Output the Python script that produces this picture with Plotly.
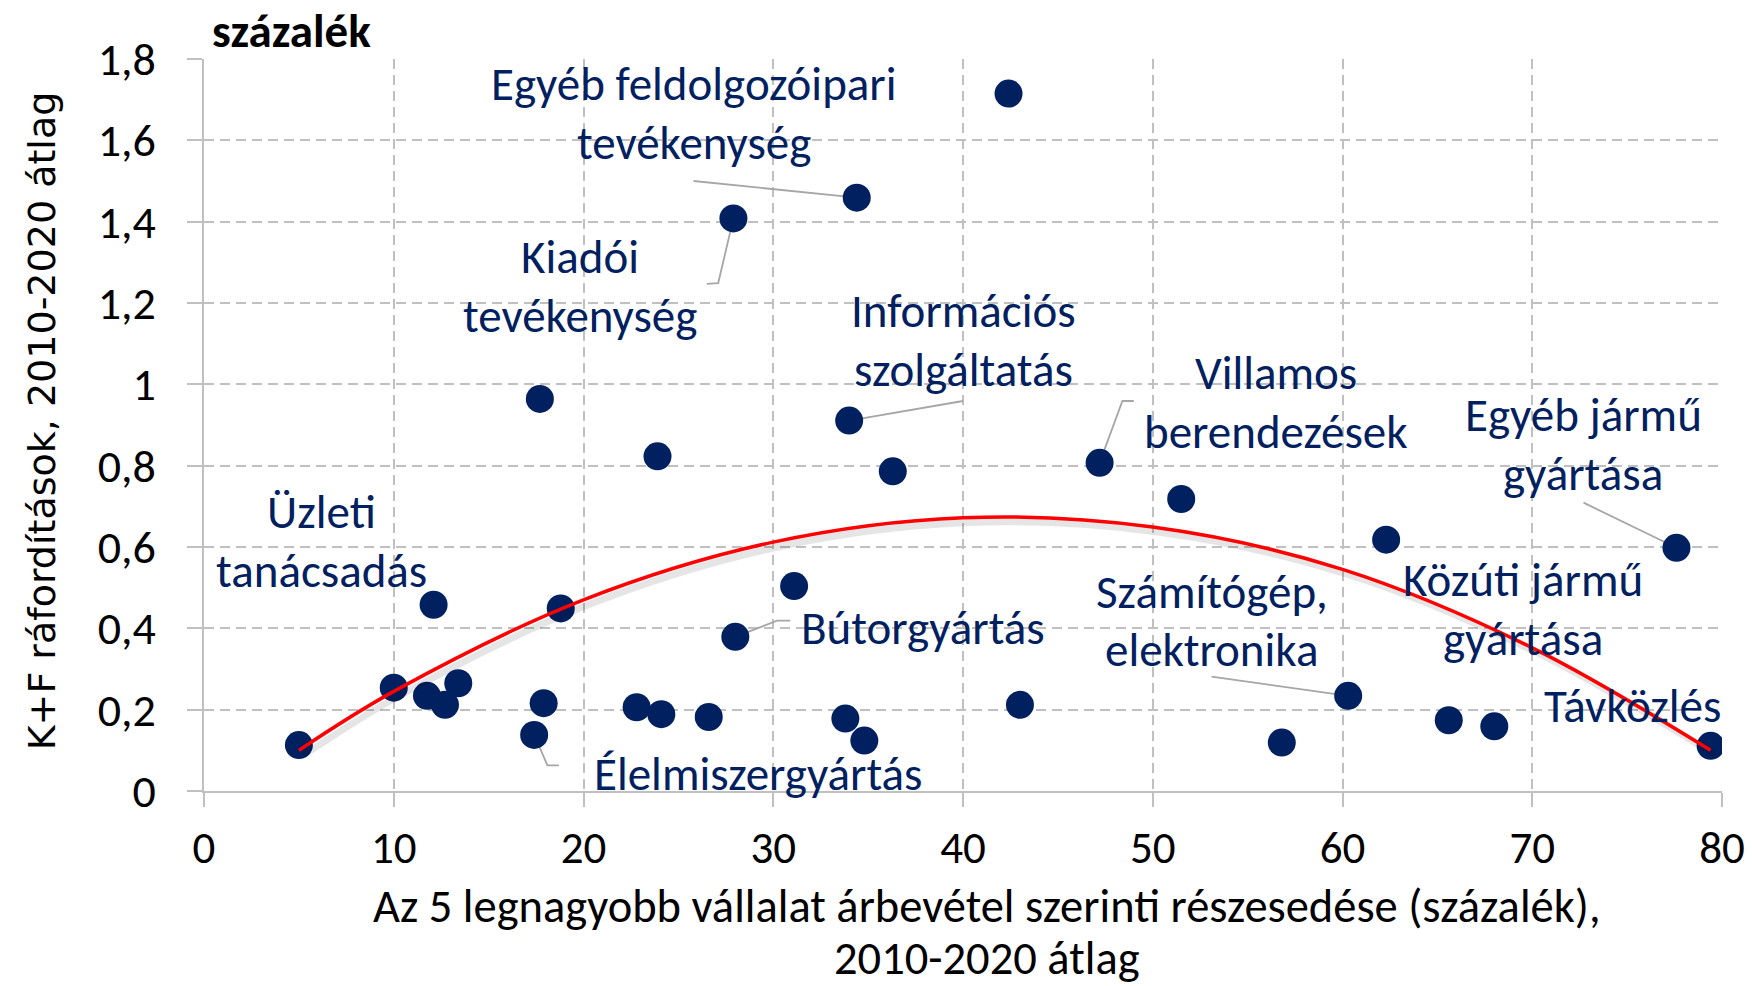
import plotly.graph_objects as go

# --- data ---
conc_share = [5.0, 10.0, 11.75, 12.7, 13.4, 12.1, 18.8, 17.9, 17.4, 22.8, 24.1, 26.6, 28.0, 31.1,
              33.8, 34.8, 23.9, 36.3, 47.2, 51.5, 62.3, 77.6, 43.0, 60.3, 56.8, 65.6, 68.0, 79.4,
              42.4, 34.4, 27.9, 34.0, 17.7]
rd_spend = [0.113, 0.254, 0.234, 0.212, 0.265, 0.458, 0.449, 0.216, 0.138, 0.206, 0.189, 0.182, 0.379, 0.504,
            0.178, 0.124, 0.823, 0.786, 0.807, 0.718, 0.618, 0.598, 0.212, 0.234, 0.119, 0.174, 0.159, 0.111,
            1.715, 1.459, 1.408, 0.911, 0.964]

trend_x = [5, 10, 20, 30, 40, 50, 60, 70, 79.4]
trend_y = [0.10, 0.245, 0.47, 0.612, 0.672, 0.649, 0.545, 0.352, 0.10]

x_ticks = [0, 10, 20, 30, 40, 50, 60, 70, 80]
x_tick_labels = ["0", "10", "20", "30", "40", "50", "60", "70", "80"]
y_ticks = [0, 0.2, 0.4, 0.6, 0.8, 1.0, 1.2, 1.4, 1.6, 1.8]
y_tick_labels = ["0", "0,2", "0,4", "0,6", "0,8", "1", "1,2", "1,4", "1,6", "1,8"]

# labels: (text lines, label x, label y of each line)
labels = [
    (["Egyéb feldolgozóipari", "tevékenység"], 25.8, [1.739, 1.594]),
    (["Kiadói", "tevékenység"], 19.8, [1.313, 1.168]),
    (["Információs", "szolgáltatás"], 40.0, [1.180, 1.035]),
    (["Villamos", "berendezések"], 56.5, [1.028, 0.882]),
    (["Egyéb jármű", "gyártása"], 72.7, [0.925, 0.779]),
    (["Üzleti", "tanácsadás"], 6.2, [0.686, 0.540]),
    (["Bútorgyártás"], 37.9, [0.400]),
    (["Számítógép,", "elektronika"], 53.1, [0.489, 0.346]),
    (["Közúti jármű", "gyártása"], 69.5, [0.520, 0.375]),
    (["Távközlés"], 75.3, [0.210]),
    (["Élelmiszergyártás"], 29.2, [0.041]),
]

# leader lines (label end -> point)
leaders = [
    ([25.8, 34.4], [1.500, 1.459]),
    ([26.5, 27.1, 27.9], [1.247, 1.249, 1.408]),
    ([40.0, 34.0], [0.959, 0.911]),
    ([49.0, 48.4, 47.2], [0.959, 0.959, 0.807]),
    ([72.7, 77.6], [0.709, 0.598]),
    ([53.1, 60.3], [0.281, 0.234]),
    ([30.9, 30.2, 28.0], [0.419, 0.419, 0.379]),
    ([18.7, 18.1, 17.4], [0.063, 0.063, 0.138]),
]

NAVY = "#002060"
GRID = "#c0c0c0"
FONT = "Carlito, Calibri, Lato, sans-serif"

fig = go.Figure()

for lx, ly in leaders:
    fig.add_trace(go.Scatter(x=lx, y=ly, mode="lines",
                             line=dict(color="#a6a6a6", width=1.8),
                             hoverinfo="skip", showlegend=False))

fig.add_trace(go.Scatter(x=conc_share, y=rd_spend, mode="markers",
                         marker=dict(color=NAVY, size=28, line=dict(width=0)),
                         showlegend=False))

# soft shadow of trend line
fig.add_trace(go.Scatter(x=[v + 0.25 for v in trend_x], y=[v - 0.012 for v in trend_y],
                         mode="lines", line=dict(color="rgba(0,0,0,0.10)", width=7, shape="spline"),
                         hoverinfo="skip", showlegend=False))
fig.add_trace(go.Scatter(x=trend_x, y=trend_y, mode="lines",
                         line=dict(color="#ff0000", width=3.5, shape="spline"),
                         showlegend=False))

annotations = []
for lines, lx, lys in labels:
    for t, yy in zip(lines, lys):
        annotations.append(dict(x=lx, y=yy, xref="x", yref="y", text=t, showarrow=False,
                                xanchor="center", yanchor="middle",
                                font=dict(family=FONT, size=47, color=NAVY)))

annotations += [
    dict(x=0.5156, y=-0.1573, xref="paper", yref="paper", showarrow=False,
         text="Az 5 legnagyobb vállalat árbevétel szerinti részesedése (százalék),",
         xanchor="center", yanchor="middle", font=dict(family=FONT, size=46.5, color="black")),
    dict(x=0.5156, y=-0.2285, xref="paper", yref="paper", showarrow=False,
         text="2010-2020 átlag",
         xanchor="center", yanchor="middle", font=dict(family=FONT, size=46.5, color="black")),
    dict(x=-0.1069, y=0.506, xref="paper", yref="paper", showarrow=False,
         text="K+F ráfordítások, 2010-2020 átlag", textangle=-90,
         xanchor="center", yanchor="middle", font=dict(family="DejaVu Sans", size=38, color="black")),
    dict(x=0.0578, y=1.0387, xref="paper", yref="paper", showarrow=False,
         text="<b>százalék</b>",
         xanchor="center", yanchor="middle", font=dict(family=FONT, size=47, color="black")),
]

fig.update_layout(
    width=1752, height=986,
    margin=dict(l=204, r=30, t=59, b=195, pad=0, autoexpand=False),
    paper_bgcolor="white", plot_bgcolor="white",
    annotations=annotations,
    xaxis=dict(range=[0, 80], tickvals=x_ticks, ticktext=x_tick_labels, automargin=False,
               showgrid=True, gridcolor=GRID, griddash="10px,6px", gridwidth=2,
               showline=True, linecolor=GRID, linewidth=2,
               ticks="outside", ticklen=14, tickcolor=GRID, tickwidth=2,
               zeroline=False, ticklabelstandoff=2,
               tickfont=dict(family=FONT, size=45, color="black")),
    yaxis=dict(range=[0, 1.8], tickvals=y_ticks, ticktext=y_tick_labels, automargin=False,
               showgrid=True, gridcolor=GRID, griddash="10px,6px", gridwidth=2,
               showline=True, linecolor=GRID, linewidth=2,
               ticks="outside", ticklen=15, tickcolor=GRID, tickwidth=2,
               zeroline=False, ticklabelstandoff=22,
               tickfont=dict(family=FONT, size=46, color="black")),
)

fig.write_html("out.html", config={"displayModeBar": False},
               post_script="document.body.style.margin='0px';document.body.style.overflow='hidden';")
